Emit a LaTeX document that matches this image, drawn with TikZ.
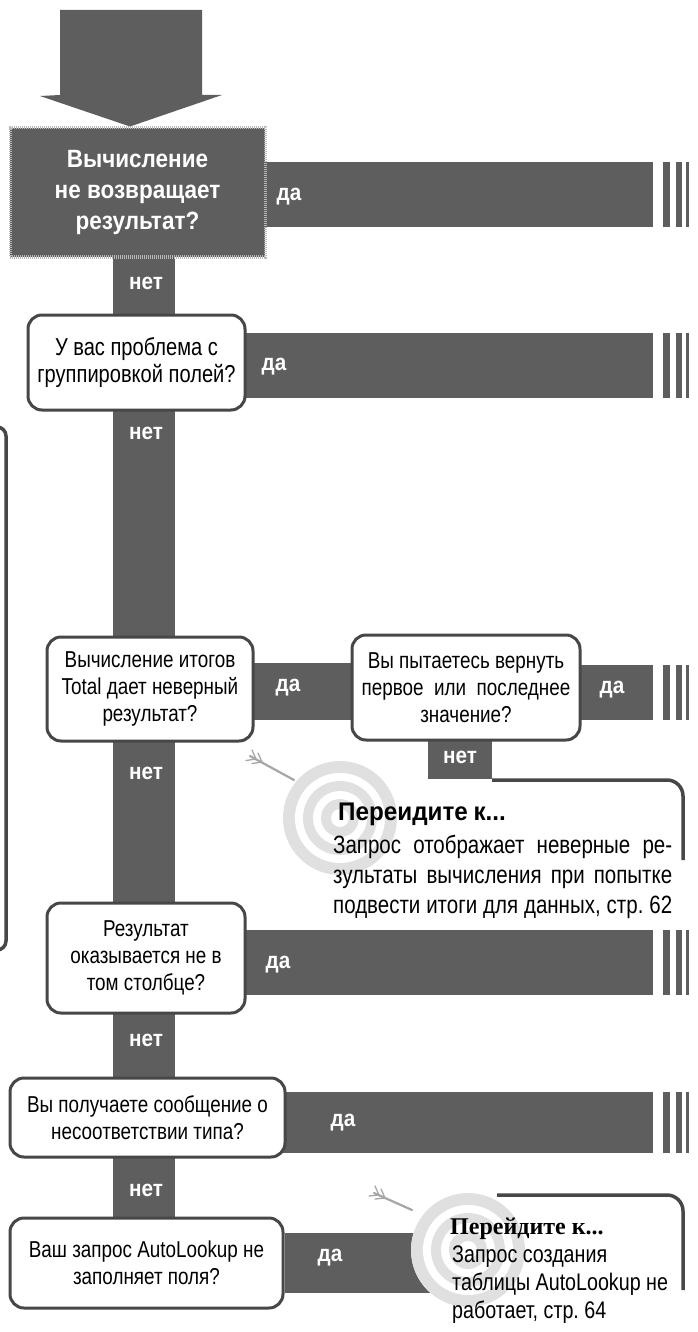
\documentclass[tikz,border=0pt]{standalone}
\usepackage{fontspec}
\setmainfont{Liberation Sans}
\newfontfamily\narrowfont[FakeStretch=0.82]{Liberation Sans}
\newfontfamily\boldfont[FakeStretch=0.9]{Liberation Sans}
\newfontfamily\titlesans[FakeStretch=0.95]{Liberation Sans}
\newfontfamily\titleserif{Liberation Serif}
\usetikzlibrary{calc}
\pgfdeclarelayer{bg}
\pgfsetlayers{bg,main}

\definecolor{bargray}{gray}{0.37}
\definecolor{edgegray}{gray}{0.28}
\definecolor{ringgray}{gray}{0.88}

\tikzset{
  qbox/.style={draw=edgegray, line width=3pt, rounded corners=14pt, fill=white,
    inner sep=0pt, align=center, font=\fontsize{23}{27}\selectfont\narrowfont},
  startbox/.style={fill=bargray, draw=black!28, line width=3pt,
    dash pattern=on 1.2pt off 0.8pt, inner sep=0pt, align=center, text=white,
    font=\fontsize{25}{31}\selectfont\boldfont\bfseries},
  lbl/.style={text=white, inner sep=0pt, font=\fontsize{23}{26}\selectfont\boldfont\bfseries},
  bar/.style={draw=bargray},
  edgeline/.style={draw=edgegray, line width=3.5pt, rounded corners=16pt},
  dart/.style={draw=black!35, line width=2.2pt, line cap=round},
  fletch/.style={draw=black!35, line width=1.3pt, line cap=round},
  pics/target/.style={code={
    \fill[white] (0,0) circle[radius=57];
    \fill[ringgray] (0,0) circle[radius=57];
    \fill[white] (0,0) circle[radius=45];
    \fill[ringgray] (0,0) circle[radius=37];
    \fill[white] (0,0) circle[radius=27];
    \fill[ringgray] (0,0) circle[radius=19];
    \fill[white] (0,0) circle[radius=9];
  }}
}

% three closing stripes at the end of a "yes" bar: #1 end point, #2 half height
\newcommand\barstripes[2]{%
  \fill[bargray] ([xshift=10pt,yshift=#2]#1) rectangle ([xshift=17pt,yshift=-#2]#1);
  \fill[bargray] ([xshift=23pt,yshift=#2]#1) rectangle ([xshift=29pt,yshift=-#2]#1);
  \fill[bargray] ([xshift=33pt,yshift=#2]#1) rectangle ([xshift=36pt,yshift=-#2]#1);
}

\begin{document}
\begin{tikzpicture}[x=1pt,y=-1pt]
\useasboundingbox (0,0) rectangle (698,1332);
\clip (0,0) rectangle (698,1332);

% side bracket
\draw[edgeline, line width=3.5pt, rounded corners=9pt] (-14,427) -- (6,427) -- (6,950) -- (-14,950);

% question boxes
\node[startbox, minimum width=255pt, minimum height=129pt] (b1) at (137.5,192.5)
  {Вычисление\\не возвращает\\результат?};
\node[qbox, minimum width=217pt, minimum height=95pt, font=\fontsize{24.5}{27}\selectfont\narrowfont] (b2) at (136.5,362.5)
  {У вас проблема с\\группировкой полей?};
\node[qbox, minimum width=206pt, minimum height=104pt] (b3) at (150,689)
  {Вычисление итогов\\Total дает неверный\\результат?};
\node[qbox, minimum width=228pt, minimum height=105pt] (b4) at (466,687.5)
  {Вы пытаетесь вернуть\\первое \ или \ последнее\\значение?};
\node[qbox, minimum width=198pt, minimum height=110pt] (b5) at (146,958)
  {Результат\\оказывается не в\\том столбце?};
\node[qbox, minimum width=275pt, minimum height=79pt] (b6) at (147.5,1117.5)
  {Вы получаете сообщение о\\несоответствии типа?};
\node[qbox, minimum width=273pt, minimum height=90pt] (b7) at (146.5,1263)
  {Ваш запрос AutoLookup не\\заполняет поля?};

% entry arrow
\fill[bargray] (60,10) -- (202,10) -- (202,95) -- (222,95) -- (b1.north -| 130,0) -- (40,96) -- (60,95) -- cycle;

% end points of the connectors
\coordinate (sp) at (144,0);
\coordinate (e1) at (653,194.5);
\coordinate (e2) at (653,365.5);
\coordinate (r3) at (300,691.5);
\coordinate (e4) at (653,692);
\coordinate (e5) at (653,962.5);
\coordinate (e6) at (653,1122.5);
\coordinate (n4) at (460,779);
\coordinate (t1) at (340,818);
\coordinate (t2) at (468,1250);

\begin{pgfonlayer}{bg}
  % "no" spine
  \draw[bar, line width=62pt] (b1 -| sp) -- (b2 -| sp);
  \draw[bar, line width=62pt] (b2 -| sp) -- (b3 -| sp);
  \draw[bar, line width=62pt] (b3 -| sp) -- (b5 -| sp);
  \draw[bar, line width=62pt] (b5 -| sp) -- (b6 -| sp);
  \draw[bar, line width=62pt] (b6 -| sp) -- (b7 -| sp);
  \draw[bar, line width=64pt] (b4 -| n4) -- (n4);
  % "yes" bars
  \draw[bar, line width=65pt] (b1 |- e1) -- (e1);
  \draw[bar, line width=65pt] (b2 |- e2) -- (e2);
  \draw[bar, line width=57pt] (b3 |- r3) -- (b4 |- r3);
  \draw[bar, line width=55pt] (b4 |- e4) -- (e4);
  \draw[bar, line width=65pt] (b5 |- e5) -- (e5);
  \draw[bar, line width=61pt] (b6 |- e6) -- (e6);
  \draw[bar, line width=60pt] (b7) -- (b7 -| t2);
\end{pgfonlayer}

\barstripes{e1}{32.5pt}
\barstripes{e2}{32.5pt}
\barstripes{e4}{27.5pt}
\barstripes{e5}{32.5pt}
\barstripes{e6}{30.5pt}

% branch labels
\node[lbl] (n1) at (146,283) {нет};
\node[lbl] (n2) at (146,433) {нет};
\node[lbl] (n3) at (146,773) {нет};
\node[lbl] (n5) at (146,1040) {нет};
\node[lbl] (n6) at (146,1190) {нет};
\node[lbl] (n7) at (460,757) {нет};
\node[lbl] (y1) at (289,197) {да};
\node[lbl] (y2) at (274,367) {да};
\node[lbl] (y3) at (288,688) {да};
\node[lbl] (y4) at (612,690) {да};
\node[lbl] (y5) at (278,965) {да};
\node[lbl] (y6) at (343,1123) {да};
\node[lbl] (y7) at (330,1258) {да};

% first "go to" callout
\pic at (t1) {target};
\draw[dart] (250,756) -- (294,780);
\draw[fletch] (262,762) -- (252,763.5) (262,762) -- (258,753)
              (256,759) -- (246,760.5) (256,759) -- (252,750);
\coordinate (c1a) at (492,780);
\coordinate (c1b) at (683,780);
\coordinate (c1c) at (683,860);
\draw[edgeline] (c1a) -- (c1b) -- (c1c);
\node[anchor=base west, inner sep=0pt, font=\fontsize{25.5}{28}\selectfont\titlesans\bfseries] (g1) at (338,820) {Переидите\kern-1pt\ к...};
\node[anchor=north west, inner sep=0pt, text width=339pt, align=justify,
  font=\fontsize{25}{30}\selectfont\narrowfont] (p1) at (333,835)
  {\parfillskip=0pt Запрос отображает неверные ре-\linebreak зультаты вычисления при попытке\linebreak подвести итоги для данных, стр.~62\par};

% second "go to" callout
\pic at (t2) {target};
\draw[dart] (374,1193) -- (412,1210);
\draw[fletch] (385,1198) -- (375,1199) (385,1198) -- (381,1189)
              (379,1195) -- (369,1196) (379,1195) -- (375,1186);
\coordinate (c2a) at (497,1195);
\coordinate (c2b) at (683,1195);
\coordinate (c2c) at (683,1290);
\draw[edgeline] (c2a) -- (c2b) -- (c2c);
\node[anchor=base west, inner sep=0pt, font=\fontsize{24}{28}\selectfont\titleserif\bfseries] (g2) at (450,1234) {Перейдите к...};
\node[anchor=north west, inner sep=0pt, align=left,
  font=\fontsize{24}{28}\selectfont\narrowfont] (p2) at (452,1246)
  {Запрос создания\\таблицы AutoLookup не\\работает, стр.~64};
\end{tikzpicture}
\end{document}
